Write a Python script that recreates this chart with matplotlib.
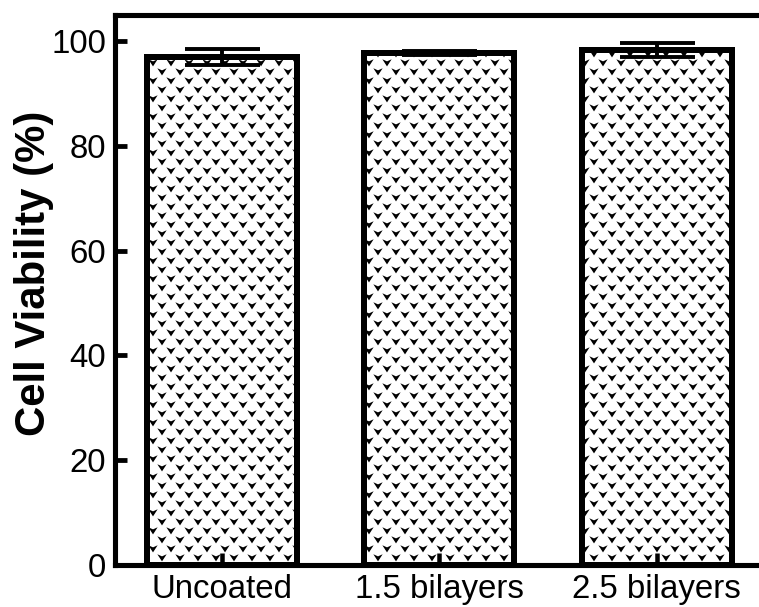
import numpy as np
import matplotlib
matplotlib.use('Agg')
import matplotlib.pyplot as plt
import matplotlib.hatch as mhatch
from matplotlib.path import Path

# Data
groups = ['Uncoated', '1.5 bilayers', '2.5 bilayers']
viability = [97.0, 97.7, 98.3]
viability_err = [1.6, 0.4, 1.3]
yticks = [0, 20, 40, 60, 80, 100]


# Staggered "v" texture used as the bar fill (replaces the '*' hatch)
class VeeHatch(mhatch.HatchPatternBase):
    rows = 12
    cols = 6
    shape = np.array([[-0.026, 0.020], [0.0, 0.008], [0.026, 0.020],
                      [0.0, -0.020], [-0.026, 0.020]])

    def __init__(self, hatch, density):
        self.centers = []
        if '*' in hatch:
            for r in range(self.rows + 1):
                y = r / self.rows
                if r % 2 == 0:
                    xs = np.arange(self.cols + 1) / self.cols
                else:
                    xs = (np.arange(self.cols) + 0.5) / self.cols
                self.centers += [(x, y) for x in xs]
        self.num_vertices = len(self.centers) * len(self.shape)

    def set_vertices_and_codes(self, vertices, codes):
        n = len(self.shape)
        unit_codes = [Path.MOVETO] + [Path.LINETO] * (n - 2) + [Path.CLOSEPOLY]
        for i, (cx, cy) in enumerate(self.centers):
            vertices[i * n:(i + 1) * n] = self.shape + [cx, cy]
            codes[i * n:(i + 1) * n] = unit_codes


mhatch._hatch_types = [t for t in mhatch._hatch_types if t is not mhatch.Stars]
mhatch._hatch_types.append(VeeHatch)

plt.rcParams['font.family'] = ['Liberation Sans', 'DejaVu Sans']
plt.rcParams['hatch.linewidth'] = 0.9

DPI = 108
fig = plt.figure(figsize=(759 / DPI, 607 / DPI), dpi=DPI)
ax = fig.add_axes([115 / 759, 42 / 607, 644 / 759, 550 / 607])

x = np.arange(len(groups))
ax.bar(x, viability, width=0.69, color='white', edgecolor='black',
       linewidth=4, hatch='*', yerr=viability_err, capsize=25,
       error_kw=dict(elinewidth=2.6, capthick=2.6, ecolor='black'))

ax.set_xlim(-0.49, 2.47)
ax.set_ylim(0, 105)
ax.set_xticks(x)
ax.set_xticklabels(groups)
ax.set_yticks(yticks)

ax.spines['right'].set_visible(False)
for side in ['left', 'bottom', 'top']:
    ax.spines[side].set_linewidth(3.4)

ax.tick_params(axis='y', direction='in', length=8, width=3.2,
               labelsize=22, pad=6)
ax.tick_params(axis='x', direction='in', length=8, width=3.0,
               labelsize=22, pad=6)

ax.set_ylabel('Cell Viability (%)', fontsize=28, fontweight='bold')
ax.yaxis.set_label_coords(-0.094, 0.53)

fig.savefig('out.png', dpi=DPI)
